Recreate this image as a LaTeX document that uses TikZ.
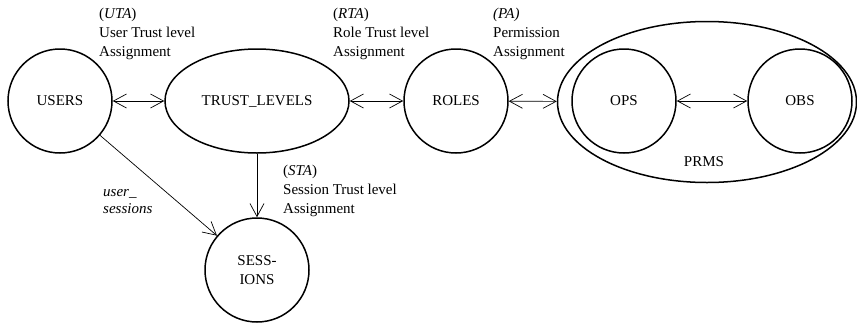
\documentclass[tikz,border=0pt]{standalone}
\usepackage{fontspec}
\setmainfont{Liberation Serif}
\usetikzlibrary{positioning,arrows.meta,shapes.geometric}
\tikzset{entity/.style={circle, draw=black, line width=1.5pt, minimum size=#1, inner sep=0pt, align=center},
entity/.default={104pt}}
\tikzset{tag/.style={anchor=north west, align=left, inner sep=0pt}}
\tikzset{assign/.style={{Straight Barb[length=13pt,width=14pt]}-{Straight Barb[length=13pt,width=14pt]}, line width=0.7pt},
oneway/.style={-{Straight Barb[length=13pt,width=14pt]}, line width=0.7pt}}

\begin{document}
\begin{tikzpicture}[x=1pt,y=-1pt,every node/.style={font=\fontsize{15pt}{19pt}\selectfont}]
		\useasboundingbox (0,0) rectangle (857,322);
		\node[entity] (users) at (60,101) {USERS};
		\node[entity,ellipse,minimum width=184pt] (trust) at (257,101) {TRUST\_LEVELS};
		\node[entity] (roles) at (456,101) {ROLES};
		\node[entity,ellipse,minimum width=299pt,minimum height=161pt] (prms) at (707,102) {};
		\node[entity] (ops) at (624,101) {OPS};
		\node[entity] (obs) at (800,101) {OBS};
		\node (prmsname) at (704,162) {PRMS};
		\node[entity] (sessions) at (257,270) {SESS-\\IONS};
		% assignment labels
		\node[tag] (uta) at (99,8) {(\textit{UTA})\\User Trust level\\Assignment};
		\node[tag] (rta) at (333,8) {(\textit{RTA})\\Role Trust level\\Assignment};
		\node[tag] (pa) at (493,8) {\textit{(PA)}\\Permission\\Assignment};
		\node[tag] (sta) at (283,165) {(\textit{STA})\\Session Trust level\\Assignment};
		\node[tag,font=\fontsize{15pt}{17.5pt}\selectfont] (usersess) at (103,189) {\textit{user\_}\\\textit{sessions}};
		\draw[assign] (users) -- (trust);
		\draw[assign] (trust) -- (roles);
		\draw[assign] (roles) -- (prms);
		\draw[assign] (ops) -- (obs);
		\draw[oneway] (trust) -- (sessions);
		\draw[oneway] (users) -- (sessions);
	\end{tikzpicture}
\end{document}
